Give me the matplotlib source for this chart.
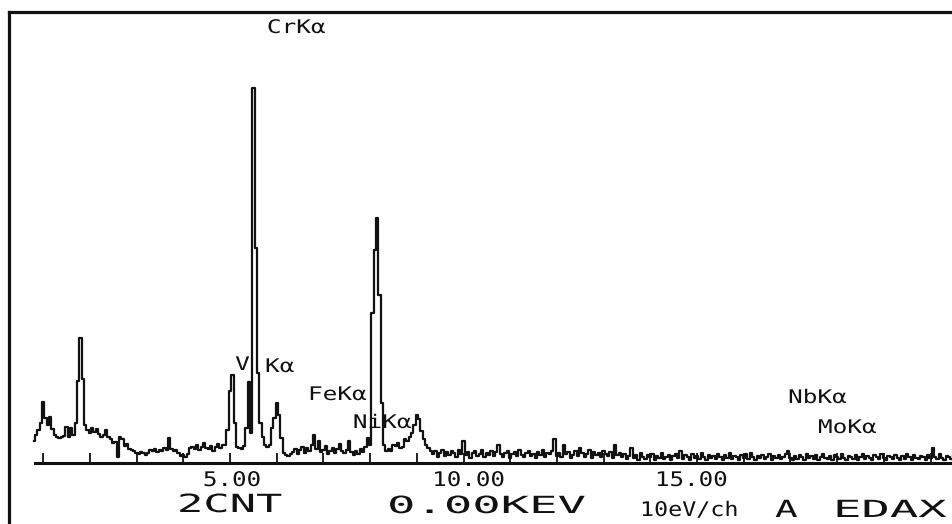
import matplotlib.pyplot as plt
import numpy as np
from matplotlib.lines import Line2D
from matplotlib.patheffects import AbstractPathEffect
from matplotlib.transforms import Affine2D

# spectrum, 50 eV bins starting at 0.80 keV (counts, relative)
counts_low = [22, 28, 33, 40, 61, 45, 38, 46, 34, 28,
              26, 25, 26, 27, 36, 26, 35, 28, 40,
              82, 125, 84, 38]
counts_bg1 = [33, 30, 35, 31, 34, 29, 26, 28, 33, 26, 24, 20, 21, 6,
              26, 24, 17, 19, 14, 13, 12, 10, 9, 11, 10, 8, 10,
              13, 12, 14, 11, 13, 12, 15, 13, 25, 14, 12, 13, 10,
              7, 8, 6, 9,
              15, 16, 14, 18, 13, 16, 20, 15, 14, 17, 12, 16, 19, 15, 18]
counts_v_cr = [18, 33, 72, 88, 40, 16, 15, 14, 17,
               35, 81, 30, 375, 215, 90, 40, 26, 18, 16, 18,
               35, 45, 60, 48, 25, 10, 8, 7, 9]
counts_bg2 = [11, 14, 9, 13, 16, 10, 15, 12, 18, 28,
              14, 22, 11, 13, 17, 9, 12, 15, 10, 14,
              19, 12, 10, 13, 22, 11, 8, 12, 9, 14,
              11, 16, 25, 18]
counts_fe_ni = [150, 213, 245, 168, 60, 18,
                12, 14, 12, 18, 17, 20, 15, 16, 24, 22,
                26, 30, 38, 48, 44, 32, 24, 18, 15, 12]
counts_bg3 = [9, 12, 6, 10, 13, 7, 11, 8, 12, 10,
              6, 13, 9, 22, 8, 11, 5, 10, 12, 7,
              9, 13, 6, 10, 8, 12, 7, 11, 18, 9,
              6, 10, 12, 5, 9, 11, 7, 13, 8, 6,
              10, 12, 7, 9, 5, 11, 8, 13, 6, 10,
              9, 12, 24, 7, 10, 6, 18, 9, 11, 5,
              8, 12, 7, 15, 10, 6, 9, 13, 5, 11,
              8, 10, 6, 12, 9, 7, 11, 5, 18, 8, 10]
counts_high = [6, 9, 4, 7, 15, 5, 8, 3, 10, 6,
               4, 8, 6, 9, 3, 7, 5, 10, 4, 6,
               8, 3, 7, 9, 5, 12, 4, 8, 6, 3,
               9, 5, 7, 4, 10, 6, 3, 8, 5, 7,
               4, 9, 6, 3, 8, 5, 10, 4, 7, 6,
               3, 8, 5, 9, 4, 10, 6, 3, 7, 5,
               8, 4, 6, 9, 3, 7, 5, 8, 4, 6,
               9, 12, 5, 3, 7, 4, 8, 6, 3, 9,
               5, 7, 4, 8, 3, 6, 9, 5, 4, 7,
               3, 8, 6, 4, 9, 5, 3, 7, 6, 4,
               8, 3, 6, 9, 4, 7, 5, 3, 8, 6,
               4, 9, 5, 3, 7, 6, 4, 8, 5, 3,
               7, 4, 9, 6, 3, 8, 5, 4, 7, 6,
               3, 8, 5, 15, 6, 4, 9, 5, 3, 7,
               6, 4, 8]

counts = (counts_low + counts_bg1 + counts_v_cr + counts_bg2
          + counts_fe_ni + counts_bg3 + counts_high)
energy = 0.80 + 0.05 * np.arange(len(counts))

# peak labels: (text, left x in keV, baseline y in counts)
peak_labels = ["CrK\u03b1", "V", "K\u03b1", "FeK\u03b1", "NiK\u03b1", "NbK\u03b1", "MoK\u03b1"]
peak_label_x = [5.79, 5.11, 5.75, 6.67, 7.63, 16.95, 17.59]
peak_label_y = [430, 93, 91, 63, 35, 60, 30]

tick_kev = list(range(1, 21))
tick_labels = ["5.00", "10.00", "15.00"]
tick_label_x = [4.42, 9.33, 14.10]

footer = ["2CNT", "0.00KEV", "10eV/ch", "A", "EDAX"]


class Widen(AbstractPathEffect):
    """Stretch glyphs sideways, like wide plotter lettering."""

    def __init__(self, sx):
        super().__init__()
        self.sx = sx

    def draw_path(self, renderer, gc, tpath, affine, rgbFace=None):
        renderer.draw_path(gc, tpath, Affine2D().scale(self.sx, 1) + affine, rgbFace)


ink = '#111111'
mono = 'DejaVu Sans Mono'

fig = plt.figure(figsize=(9.52, 5.24), dpi=100)
ax = fig.add_axes([0, 0, 1, 1])
ax.set_axis_off()
ax.set_xlim(0.075, 20.46)
ax.set_ylim(-61, 463)

# outer frame (top and left only)
fig.add_artist(Line2D([9 / 952, 1], [1 - 12 / 524] * 2, transform=fig.transFigure,
                      color=ink, lw=2.3, solid_capstyle='projecting'))
fig.add_artist(Line2D([9 / 952] * 2, [0, 1 - 12 / 524], transform=fig.transFigure,
                      color=ink, lw=2.3, solid_capstyle='projecting'))

# energy axis with upward ticks every keV
ax.plot([0.82, 20.5], [0, 0], color=ink, lw=2.2)
ax.vlines(tick_kev, 0, 10, color=ink, lw=1.3)

ax.step(energy, counts, where='mid', color=ink, lw=1.6)

for s, x, y in zip(peak_labels, peak_label_x, peak_label_y):
    ax.text(x, y, s, family=mono, fontsize=13.5, color=ink, ha='left', va='baseline',
            path_effects=[Widen(1.3)])

for s, x in zip(tick_labels, tick_label_x):
    ax.text(x, -23, s, family=mono, fontsize=14.5, color=ink, ha='left', va='baseline',
            path_effects=[Widen(1.2)])

fig.text(177 / 952, 1 - 512 / 524, footer[0], family=mono, fontsize=18, color=ink,
         va='baseline', path_effects=[Widen(1.75)])
fig.text(387 / 952, 1 - 513 / 524, footer[1], family=mono, fontsize=17, color=ink,
         va='baseline', path_effects=[Widen(2.0)])
fig.text(640 / 952, 1 - 516 / 524, footer[2], family=mono, fontsize=14.5, color=ink,
         va='baseline', path_effects=[Widen(1.16)])
fig.text(775 / 952, 1 - 517 / 524, footer[3], family=mono, fontsize=17, color=ink,
         va='baseline', path_effects=[Widen(1.6)])
fig.text(833 / 952, 1 - 517 / 524, footer[4], family=mono, fontsize=17, color=ink,
         va='baseline', path_effects=[Widen(2.0)])

fig.savefig('out.png', dpi=100)
